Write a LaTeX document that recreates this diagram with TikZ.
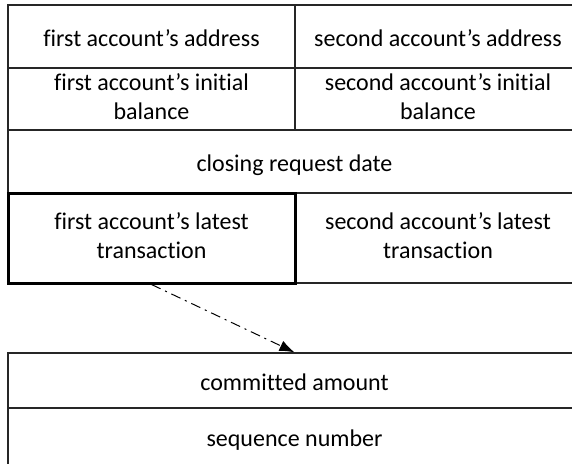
\documentclass[tikz,border=0pt]{standalone}
\usepackage{fontspec}
\setmainfont[Ligatures={NoCommon,NoRequired,NoContextual}]{Carlito}
\usetikzlibrary{arrows.meta}
% line box used for every text line of a field
\newcommand\fieldstrut{\rule[-4.7pt]{0pt}{29pt}}
\tikzset{
  cell/.style={draw=black!85, line width=1.3pt, inner sep=0pt, align=center,
    font=\fontsize{24}{29}\selectfont, anchor=center,
    execute at begin node=\fieldstrut, execute at end node=\fieldstrut},
  focus/.style={draw=black, line width=3pt},
  link/.style={line width=1pt, dash pattern=on 10pt off 5pt on 2pt off 5pt,
    -{Latex[length=15pt,width=11pt]}}
}
\begin{document}
\begin{tikzpicture}[x=1pt,y=1pt]
\useasboundingbox (0,0) rectangle (572,-463);
\clip (0,0) rectangle (572,-463);
% record fields of the closing request
\node[cell, minimum width=287, minimum height=63] (fa) at (151.5,-36.5) {first account’s address};
\node[cell, minimum width=286, minimum height=63] (sa) at (438,-36.5) {second account’s address};
\node[cell, minimum width=287, minimum height=62] (fb) at (151.5,-99) {first account’s initial\\balance};
\node[cell, minimum width=286, minimum height=62] (sb) at (438,-99) {second account’s initial\\balance};
\node[cell, minimum width=573, minimum height=63] (cd) at (294.5,-161.5) {closing request date};
\node[cell, minimum width=286, minimum height=90] (st) at (438,-238) {second account’s latest\\transaction};
\node[cell, focus, minimum width=287, minimum height=90] (ft) at (151.5,-238) {first account’s latest\\transaction};
% transaction record
\node[cell, minimum width=573, minimum height=55] (ca) at (294.5,-380.5) {committed amount};
\node[cell, minimum width=573, minimum height=57] (sn) at (294.5,-436.5) {sequence number};
\draw[link] (ft.south) -- (ca.north);
\end{tikzpicture}
\end{document}
